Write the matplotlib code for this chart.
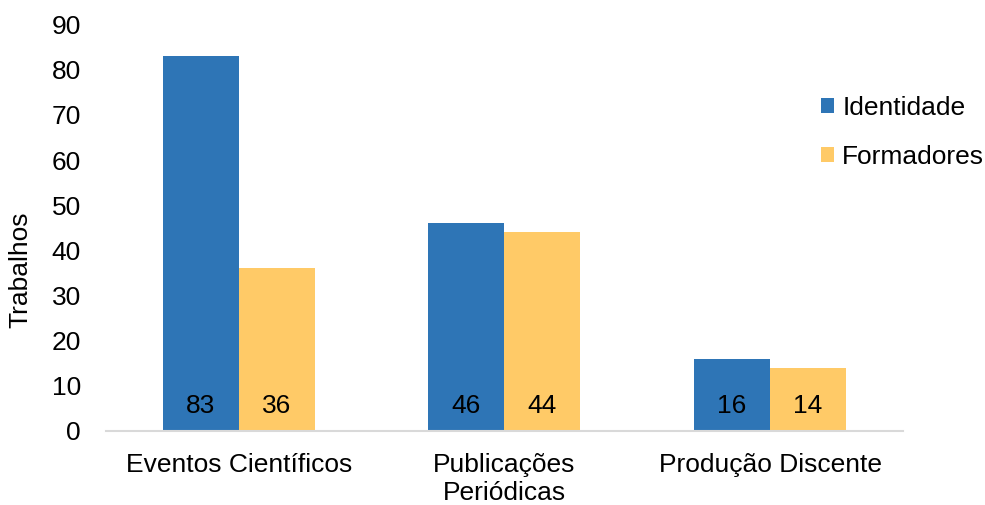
import numpy as np
import matplotlib
matplotlib.use('Agg')
import matplotlib.pyplot as plt

plt.rcParams['font.family'] = ['Liberation Sans', 'DejaVu Sans']

categories = ['Eventos Científicos', 'Publicações\nPeriódicas', 'Produção Discente']
identidade = [83, 46, 16]
formadores = [36, 44, 14]
series_names = ['Identidade', 'Formadores']
colors = ['#2E75B6', '#FFCA67']

fig = plt.figure(figsize=(9.85, 5.05), dpi=100)
ax = fig.add_axes([0.1076, 0.147, 0.809, 0.804])

x = np.arange(len(categories))
w = 0.286
bars1 = ax.bar(x - w / 2, identidade, w, color=colors[0], label=series_names[0])
bars2 = ax.bar(x + w / 2, formadores, w, color=colors[1], label=series_names[1])

# value labels sit near the bottom of each bar
for bars, vals in ((bars1, identidade), (bars2, formadores)):
    for b, v in zip(bars, vals):
        ax.text(b.get_x() + b.get_width() / 2, 5.5, str(v),
                ha='center', va='center', fontsize=19, color='black')

ax.set_xlim(-0.5, 2.5)
ax.set_ylim(0, 90)
ax.set_yticks(range(0, 91, 10))
ax.set_xticks(x)
ax.set_xticklabels(categories, fontsize=19, linespacing=1.2)
ax.tick_params(axis='y', length=0, labelsize=19, pad=18)
ax.tick_params(axis='x', length=0, pad=16)
ax.set_ylabel('Trabalhos', fontsize=19)
ax.yaxis.set_label_coords(-0.093, 0.397)

for s in ('top', 'right', 'left'):
    ax.spines[s].set_visible(False)
ax.spines['bottom'].set_color('#D9D9D9')
ax.spines['bottom'].set_linewidth(1.5)

ax.legend(loc='upper left', bbox_to_anchor=(0.881, 0.858), frameon=False,
          fontsize=19, handlelength=0.5, handleheight=0.5, handletextpad=0.3,
          labelspacing=0.95, borderpad=0)

fig.savefig('out.png', dpi=100)
